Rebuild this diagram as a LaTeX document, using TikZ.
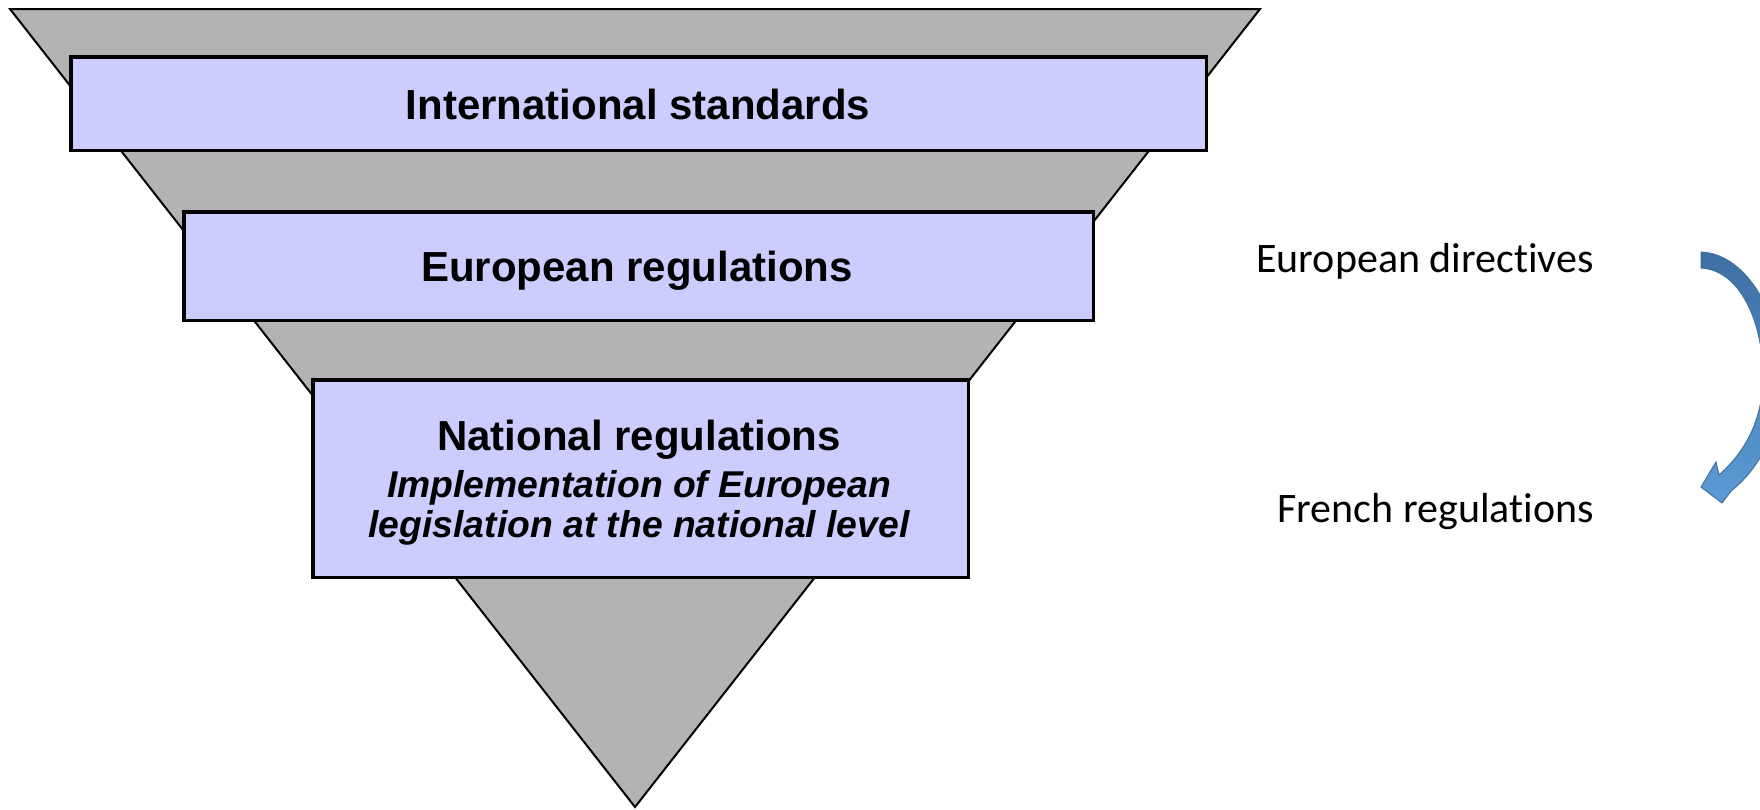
\documentclass[tikz,border=0pt]{standalone}
\usepackage{fontspec}
\setmainfont{Liberation Sans}
\newfontfamily\calib[Ligatures=NoCommon]{Carlito}
\definecolor{trigray}{HTML}{B3B3B3}
\definecolor{boxfill}{HTML}{CCCCFF}
\definecolor{arrowdark}{HTML}{3E6FA3}
\definecolor{arrowlight}{HTML}{5B9BD5}
\definecolor{arrowedge}{HTML}{41719C}
\tikzset{
  levelbox/.style={draw=black, line width=3.5pt, fill=boxfill, rectangle, inner sep=0pt},
  titletext/.style={font=\fontsize{42}{48}\selectfont\bfseries, anchor=base, inner sep=0pt},
  subtext/.style={font=\fontsize{37.3}{42}\selectfont\bfseries\itshape, anchor=base, inner sep=0pt},
  sidetext/.style={font=\calib\fontsize{42}{48}\selectfont, anchor=base east, inner sep=0pt},
}
\begin{document}
\begin{tikzpicture}[x=1pt, y=-1pt]
\useasboundingbox (0,0) rectangle (1760,809);
% funnel
\draw[fill=trigray, draw=black, line width=2pt, line join=miter] (10,9) coordinate (tl) -- (1260,9) coordinate (tr) -- (635,807) coordinate (ap) -- cycle;
% boxes
\node[levelbox, minimum width=1135.5pt, minimum height=93.5pt] (b1) at (638.5,103.5) {};
\node[levelbox, minimum width=909.5pt, minimum height=108.5pt] (b2) at (638.5,266) {};
\node[levelbox, minimum width=655.5pt, minimum height=197.5pt] (b3) at (640.5,478.5) {};
% texts
\node[titletext] (t1) at (638,119) {International standards};
\node[titletext] (t2) at (637,281) {European regulations};
\node[titletext] (t3) at (639,450) {National regulations};
\node[subtext] (t4) at (639,497) {Implementation of European};
\node[subtext] (t5) at (639,537) {legislation at the national level};
% side texts
\node[sidetext] (s1) at (1594,272.5) {European directives};
\node[sidetext] (s2) at (1594,522.5) {French regulations};
% curved arrow
\begin{scope}
\clip (0,0) rectangle (1760,809);
\shade[top color=arrowdark, bottom color=arrowlight, draw=arrowedge, line width=1pt]
  (1701,252) coordinate (tailtop)
  .. controls (1748,254) and (1782,318) .. (1781,378)
  .. controls (1780,430) and (1760,468) .. (1731,491)
  -- (1722,503)
  -- (1701,487) coordinate (tip)
  -- (1716,462)
  -- (1719,475)
  .. controls (1745,452) and (1763,420) .. (1763,376)
  .. controls (1763,322) and (1740,270) .. (1701,268) coordinate (tailbot)
  -- cycle;
\end{scope}
\end{tikzpicture}
\end{document}
